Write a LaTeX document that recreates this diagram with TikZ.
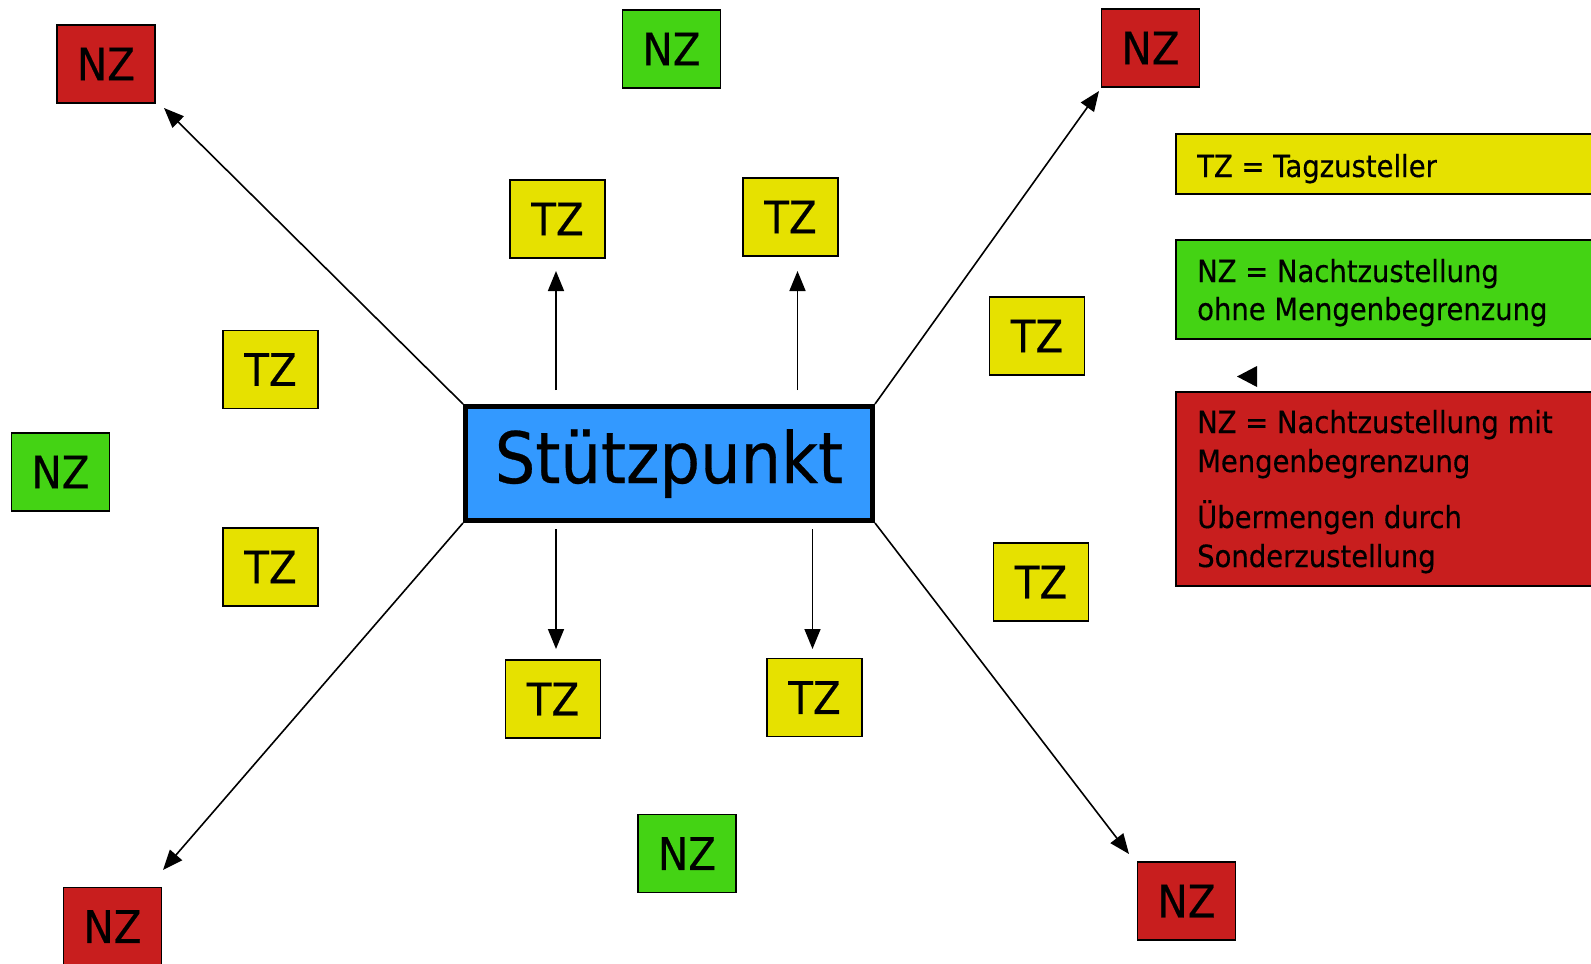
\documentclass[tikz,border=0pt]{standalone}
\usepackage{fontspec}
\setmainfont{DejaVu Sans}[FakeStretch=0.9, FakeBold=0.4]
\usetikzlibrary{arrows.meta}

\definecolor{nzred}{RGB}{200,30,30}
\definecolor{nzgreen}{RGB}{68,211,20}
\definecolor{tzyellow}{RGB}{230,225,0}
\definecolor{hubblue}{RGB}{51,153,255}

\tikzset{
  tile/.style={draw=black, line width=1.8pt, inner sep=0pt,
    minimum width=98pt, minimum height=78pt,
    font=\fontsize{45}{54}\selectfont},
  nzr/.style={tile, fill=nzred},
  nzg/.style={tile, fill=nzgreen},
  tzy/.style={tile, fill=tzyellow, minimum width=95pt},
  hub/.style={draw=black, line width=5pt, fill=hubblue, inner sep=0pt,
    minimum width=407pt, minimum height=114pt,
    font=\fontsize{71}{80}\selectfont},
  link/.style={line width=1.6pt,
    -{Triangle[length=20pt,width=16pt]}},
  legbox/.style={draw=black, line width=1.8pt, inner sep=0pt, anchor=north west},
  legtext/.style={anchor=base west, inner sep=0pt,
    font=\fontsize{30.5}{38}\selectfont}
}

\begin{document}
\begin{tikzpicture}[x=1pt, y=-1pt]
\useasboundingbox (0,0) rectangle (1591,964);

% central depot
\node[hub] (sp) at (669,463.5) {Stützpunkt};

% night delivery tiles
\node[nzr] (nzTL) at (106,64) {NZ};
\node[nzg] (nzT)  at (671.5,49) {NZ};
\node[nzr] (nzTR) at (1150.5,48) {NZ};
\node[nzg] (nzL)  at (60.5,472) {NZ};
\node[nzg] (nzB)  at (687,853.5) {NZ};
\node[nzr] (nzBL) at (112.5,926.5) {NZ};
\node[nzr] (nzBR) at (1186.5,901) {NZ};

% day delivery tiles
\node[tzy] (tzT1) at (557.5,219) {TZ};
\node[tzy] (tzT2) at (790.5,217) {TZ};
\node[tzy] (tzL1) at (270.5,369.5) {TZ};
\node[tzy] (tzL2) at (270.5,567) {TZ};
\node[tzy] (tzR1) at (1037,336) {TZ};
\node[tzy] (tzR2) at (1041,582) {TZ};
\node[tzy] (tzB1) at (553,699) {TZ};
\node[tzy] (tzB2) at (814.5,697.5) {TZ};

% arrow ends
\coordinate (eTL) at (164,108);
\coordinate (eTR) at (1099,91);
\coordinate (eBL) at (163,870);
\coordinate (eBR) at (1129,854);
\coordinate (sU1) at (556,390);
\coordinate (eU1) at (556,271);
\coordinate (sU2) at (797.5,390);
\coordinate (eU2) at (797.5,271);
\coordinate (sD1) at (556,529);
\coordinate (eD1) at (556,649);
\coordinate (sD2) at (812.5,529);
\coordinate (eD2) at (812.5,649);

% diagonal routes
\draw[link] (sp.north west) -- (eTL);
\draw[link] (sp.north east) -- (eTR);
\draw[link] (sp.south west) -- (eBL);
\draw[link] (sp.south east) -- (eBR);

% short vertical routes
\draw[link] (sU1) -- (eU1);
\draw[link] (sU2) -- (eU2);
\draw[link] (sD1) -- (eD1);
\draw[link] (sD2) -- (eD2);

% legend
\node[legbox, fill=tzyellow, minimum width=430pt, minimum height=60pt] (lgY) at (1175,133) {};
\node[legtext] (lgYt) at (1197,177) {TZ = Tagzusteller};

\node[legbox, fill=nzgreen, minimum width=430pt, minimum height=99pt] (lgG) at (1175,239) {};
\node[legtext] (lgGt1) at (1197,282) {NZ = Nachtzustellung};
\node[legtext] (lgGt2) at (1197,320) {ohne Mengenbegrenzung};

\fill (1237,376.5) -- (1257,366) -- (1257,387) -- cycle;

\node[legbox, fill=nzred, minimum width=430pt, minimum height=194pt] (lgR) at (1175,391) {};
\node[legtext] (lgRt1) at (1197,433) {NZ = Nachtzustellung mit};
\node[legtext] (lgRt2) at (1197,472) {Mengenbegrenzung};
\node[legtext] (lgRt3) at (1197,528) {Übermengen durch};
\node[legtext] (lgRt4) at (1197,567) {Sonderzustellung};
\end{tikzpicture}
\end{document}
